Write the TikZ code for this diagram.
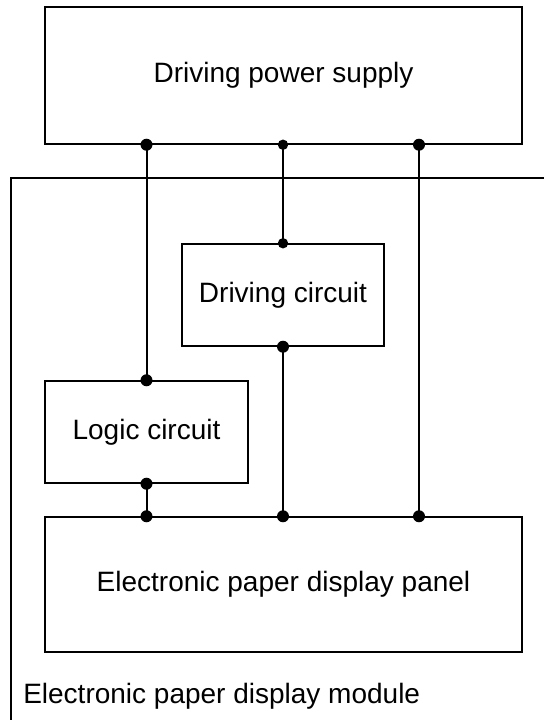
\documentclass[tikz,border=0pt]{standalone}
\usepackage{fontspec}
\setmainfont{Liberation Sans}
\usepackage{tikz}
\usetikzlibrary{positioning,calc}

\begin{document}
\begin{tikzpicture}[x=0.75pt, y=-0.75pt,
    block/.style={rectangle, draw, line width=1.1pt, align=center, font=\fontsize{21}{25}\selectfont},
    wire/.style={line width=1.5pt},
    thinwire/.style={line width=0.8pt},
    frame/.style={line width=1.1pt}
]
\useasboundingbox (0,0) rectangle (544,720);

\node[block, minimum width=357.75pt, minimum height=102.75pt] (power) at (283.5,75.5) {Driving power supply};
\node[block, minimum width=151.5pt, minimum height=76.5pt] (drive) at (283,295) {Driving circuit};
\node[block, minimum width=152.25pt, minimum height=76.5pt] (logic) at (146.5,432) {Logic circuit};
\node[block, minimum width=357.75pt, minimum height=101.25pt] (panel) at (283.5,584.5) {Electronic paper display panel};

% module frame, open to the right and bottom
\draw[frame] (544,178) -- (11,178) -- (11,720);
\node[anchor=base west, inner sep=0pt, font=\fontsize{21}{25}\selectfont] (module) at (23,703) {Electronic paper display module};

\coordinate (tapL) at (power.south -| logic.north);
\coordinate (tapM) at (power.south -| drive.north);
\coordinate (tapR) at (419,0 |- power.south);
\coordinate (inL) at (logic.south |- panel.north);
\coordinate (inM) at (drive.south |- panel.north);
\coordinate (inR) at (tapR |- panel.north);

\draw[wire] (tapL) -- (logic.north);
\draw[thinwire] (tapM) -- (drive.north);
\draw[wire] (tapR) -- (inR);
\draw[wire] (drive.south) -- (inM);
\draw[wire] (logic.south) -- (inL);

\foreach \p in {tapL, tapR, logic.north, logic.south, inL, inM, inR, drive.south}
    \fill (\p) circle (6);
\foreach \p in {tapM, drive.north}
    \fill (\p) circle (5.2);
\end{tikzpicture}
\end{document}
